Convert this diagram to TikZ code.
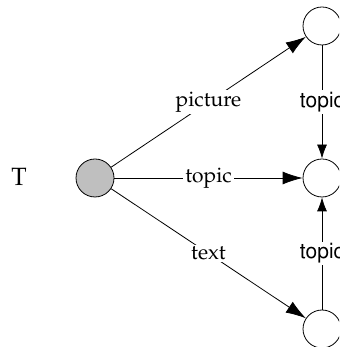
\documentclass[tikz,border=0pt]{standalone}
\usepackage[T1]{fontenc}
\usepackage{mathpazo}
\usepackage{helvet}
\usetikzlibrary{arrows.meta}
\begin{document}
\begin{tikzpicture}[x=1pt,y=1pt,
  every node/.style={font=\fontsize{21}{25}\selectfont},
  place/.style={circle,draw,line width=0.8pt,minimum size=38pt,inner sep=0pt},
  edge/.style={line width=0.8pt,-{Latex[length=20pt,width=13pt]}},
  vedge/.style={line width=0.8pt,-{Latex[length=14pt,width=10pt]}},
  lab/.style={fill=white,inner sep=2pt},
  slab/.style={fill=white,inner sep=2pt,font=\fontsize{21}{25}\sffamily\selectfont},
  title/.style={font=\fontsize{25}{30}\selectfont}]
\clip (0,0) rectangle (339,347);
\useasboundingbox (0,0) rectangle (339,347);
\node[title] (T) at (19,170) {T};
\node[place,fill=gray!50] (g) at (95,169) {};
\node[place] (a) at (322,321) {};
\node[place] (b) at (322,169) {};
\node[place] (c) at (322,18) {};
\draw[edge] (g) -- node[lab] {picture} (a);
\draw[edge] (g) -- node[lab] {topic} (b);
\draw[edge] (g) -- node[lab] {text} (c);
\draw[vedge] (a) -- node[slab] {topic} (b);
\draw[vedge] (c) -- node[slab] {topic} (b);
\end{tikzpicture}
\end{document}
